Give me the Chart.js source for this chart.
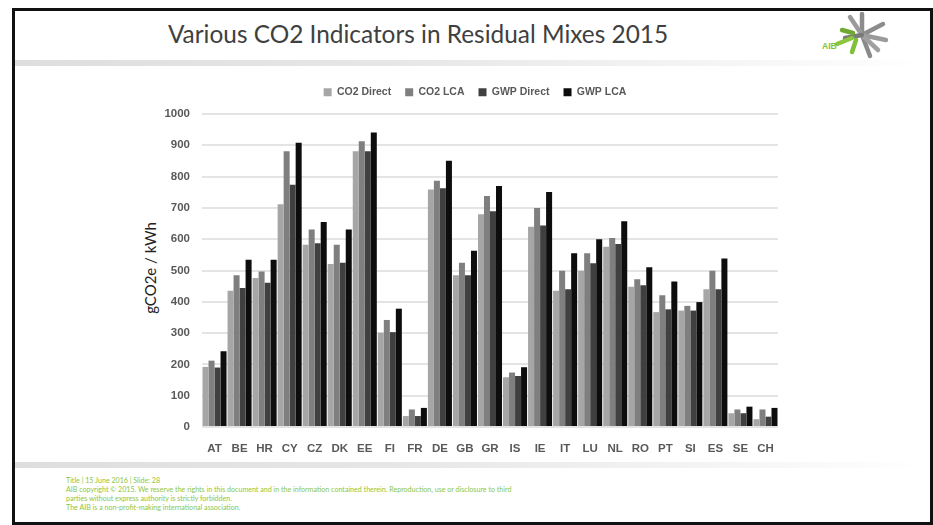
<!DOCTYPE html>
<html>
<head>
<meta charset="utf-8">
<script src="https://cdn.jsdelivr.net/npm/chart.js@4.4.0/dist/chart.umd.min.js"></script>
<style>
  body { margin: 0; width: 933px; height: 525px; background: #fff; position: relative; overflow: hidden; font-family: Lato, sans-serif; }
  #frame { position: absolute; left: 12px; top: 8px; width: 915px; height: 511px; border: 3px solid #111; }
  .band { position: absolute; left: 15px; width: 912px; height: 6px; background: linear-gradient(to right, #dedede 0%, #e6e6e6 40%, #f4f4f4 75%, #fff 100%); }
  #title { position: absolute; left: 0; top: 19px; width: 836px; text-align: center; font-size: 24.4px; color: #404040; }
  #ytitle { position: absolute; left: 150px; top: 268px; transform: translate(-50%, -50%) rotate(-90deg); font-size: 15px; color: #222; white-space: nowrap; }
  #footer { position: absolute; left: 66px; top: 476px; font-size: 7.1px; line-height: 9px; color: #8cc63f; white-space: nowrap; }
  #logo { position: absolute; left: 815px; top: 8px; }
  canvas { position: absolute; left: 0; top: 0; }
</style>
</head>
<body>
<div id="frame"></div>
<div class="band" style="top:60px"></div>
<div class="band" style="top:462px"></div>
<div id="title">Various CO2 Indicators in Residual Mixes 2015</div>
<svg id="logo" width="90" height="60" viewBox="815 8 90 60">
  <g stroke-linecap="round" stroke-width="4.5" fill="none">
    <line x1="862" y1="35" x2="862" y2="14" stroke="#8c8c8c"/>
    <line x1="862" y1="35" x2="850" y2="17" stroke="#9a9a9a"/>
    <line x1="862" y1="35" x2="883" y2="24" stroke="#8c8c8c"/>
    <line x1="862" y1="35" x2="886" y2="40" stroke="#9a9a9a"/>
    <line x1="862" y1="35" x2="870" y2="56" stroke="#8a8a8a"/>
    <line x1="862" y1="35" x2="878" y2="50" stroke="#a0a0a0"/>
    <line x1="862" y1="35" x2="845" y2="38" stroke="#7a7a7a"/>
    <line x1="856" y1="40" x2="852" y2="52" stroke="#7fbf3a"/>
    <line x1="852" y1="38" x2="837" y2="44" stroke="#8cc63f"/>
    <line x1="853" y1="33" x2="842" y2="30" stroke="#6fa832"/>
  </g>
  <text x="822" y="49" font-family="Liberation Sans" font-weight="bold" font-size="8.5" fill="#7fbf3a">AIB</text>
</svg>
<div id="ytitle">gCO2e / kWh</div>
<div id="footer">Title | 15 June 2016 | Slide: 28<br>AIB copyright © 2015. We reserve the rights in this document and in the information contained therein. Reproduction, use or disclosure to third<br>parties without express authority is strictly forbidden.<br>The AIB is a non-profit-making international association.</div>
<canvas id="chart" width="933" height="525"></canvas>
<script>
// Pays et valeurs (gCO2e / kWh)
const countries = ['AT', 'BE', 'HR', 'CY', 'CZ', 'DK', 'EE', 'FI', 'FR', 'DE', 'GB', 'GR', 'IS', 'IE', 'IT', 'LU', 'NL', 'RO', 'PT', 'SI', 'ES', 'SE', 'CH'];
const co2Direct = [192, 435, 476, 712, 582, 521, 881, 301, 35, 759, 485, 680, 159, 640, 435, 499, 576, 448, 367, 372, 440, 44, 25];
const co2Lca = [212, 485, 497, 881, 631, 582, 913, 342, 56, 787, 525, 738, 174, 700, 499, 555, 604, 472, 421, 387, 499, 56, 56];
const gwpDirect = [190, 444, 461, 774, 587, 525, 881, 303, 35, 763, 485, 689, 163, 644, 440, 523, 585, 453, 376, 372, 440, 44, 33];
const gwpLca = [242, 534, 534, 908, 655, 631, 941, 378, 61, 851, 563, 770, 191, 751, 555, 600, 657, 510, 465, 399, 538, 65, 61];
const yMin = 0, yMax = 1000, yStep = 100;

// Hauteur fixe de la légende et petit décalage vers la droite
const legendFix = {
    id: 'legendFix',
    beforeInit(chart) {
        const fit = chart.legend.fit;
        chart.legend.fit = function() {
            fit.bind(chart.legend)();
            this.height = 41;
        };
    },
    afterUpdate(chart) {
        chart.legend.left += 10;
        chart.legend.right += 10;
    }
};

const tickFont = { family: 'Liberation Sans', size: 11.5, weight: 'bold' };

new Chart(document.getElementById('chart'), {
    type: 'bar',
    data: {
        labels: countries,
        datasets: [
            { label: 'CO2 Direct', data: co2Direct, backgroundColor: '#a6a6a6' },
            { label: 'CO2 LCA', data: co2Lca, backgroundColor: '#7f7f7f' },
            { label: 'GWP Direct', data: gwpDirect, backgroundColor: '#404040' },
            { label: 'GWP LCA', data: gwpLca, backgroundColor: '#0d0d0d' }
        ]
    },
    options: {
        responsive: false,
        animation: false,
        devicePixelRatio: 1,
        layout: { padding: { left: 152, right: 155, top: 73, bottom: 68 } },
        datasets: { bar: { categoryPercentage: 0.96, barPercentage: 1.0 } },
        plugins: {
            legend: {
                position: 'top',
                labels: { boxWidth: 8, boxHeight: 8, padding: 14, color: '#595959', font: { family: 'Liberation Sans', size: 10.5, weight: 'bold' } }
            },
            tooltip: { enabled: false }
        },
        scales: {
            x: {
                grid: { display: false },
                border: { display: false },
                ticks: { color: '#595959', font: tickFont, padding: 7, maxRotation: 0 },
                afterFit(scale) { scale.height = 30; }
            },
            y: {
                min: yMin,
                max: yMax,
                ticks: { stepSize: yStep, color: '#595959', font: tickFont, padding: 12, callback: v => String(v) },
                grid: { color: '#e4e4e4', lineWidth: 2, drawTicks: false },
                border: { display: false },
                afterFit(scale) { scale.width = 50; }
            }
        }
    },
    plugins: [legendFix]
});
</script>
</body>
</html>
